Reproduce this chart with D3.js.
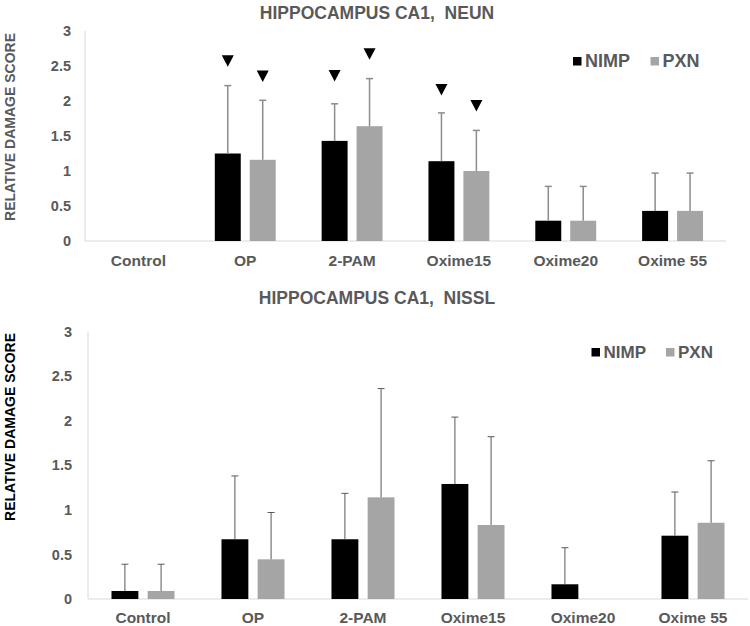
<!DOCTYPE html>
<html>
<head>
<meta charset="utf-8">
<script src="https://cdn.jsdelivr.net/npm/d3@7"></script>
<style>
  html, body { margin: 0; padding: 0; background: #ffffff; }
  svg { display: block; font-family: Arial, "Liberation Sans", sans-serif; }
</style>
</head>
<body>
<svg id="chart" width="750" height="626"></svg>
<script>
// ---------- DATA ----------
const categories = ["Control", "OP", "2-PAM", "Oxime15", "Oxime20", "Oxime 55"];
const seriesNames = ["NIMP", "PXN"];
const yTicks = [0, 0.5, 1, 1.5, 2, 2.5, 3];

// Top panel: Hippocampus CA1, NeuN
const neunTitle = "HIPPOCAMPUS CA1,  NEUN";
const neunNIMP = [0, 1.25, 1.43, 1.14, 0.29, 0.43];
const neunPXN  = [0, 1.16, 1.64, 1.00, 0.29, 0.43];
const neunNIMPerr = [0, 0.97, 0.53, 0.69, 0.49, 0.54];
const neunPXNerr  = [0, 0.85, 0.68, 0.58, 0.49, 0.54];
// significance markers (value at triangle apex, null = none)
const neunNIMPmark = [null, 2.49, 2.28, 2.08, null, null];
const neunPXNmark  = [null, 2.27, 2.59, 1.85, null, null];

// Bottom panel: Hippocampus CA1, Nissl
const nisslTitle = "HIPPOCAMPUS CA1,  NISSL";
const nisslNIMP = [0.09, 0.67, 0.67, 1.29, 0.165, 0.71];
const nisslPXN  = [0.09, 0.445, 1.14, 0.83, 0, 0.855];
const nisslNIMPerr = [0.30, 0.71, 0.515, 0.75, 0.41, 0.49];
const nisslPXNerr  = [0.30, 0.525, 1.22, 0.99, 0, 0.695];

const yTitle = "RELATIVE DAMAGE SCORE";

// ---------- DRAW ----------
const svg = d3.select("#chart");
const colors = { NIMP: "#000000", PXN: "#a5a5a5" };

function drawPanel(cfg) {
  const g = svg.append("g");
  const x0 = d3.scaleBand().domain(categories).range([cfg.left, cfg.right])
    .paddingInner(cfg.pad).paddingOuter(cfg.pad / 2);
  const x1 = d3.scaleBand().domain(seriesNames).range([0, x0.bandwidth()]).paddingInner(cfg.innerPad);
  const y = d3.scaleLinear().domain([0, 3]).range([cfg.bottom, cfg.top]);

  // axis lines
  g.append("line").attr("x1", cfg.left).attr("x2", cfg.left)
    .attr("y1", y(3)).attr("y2", y(0)).attr("stroke", "#d9d9d9").attr("stroke-width", 1);
  g.append("line").attr("x1", cfg.left).attr("x2", cfg.right)
    .attr("y1", y(0)).attr("y2", y(0)).attr("stroke", "#d9d9d9").attr("stroke-width", 1.2);

  // y ticks
  g.selectAll(".ytick").data(yTicks).enter().append("text")
    .attr("x", cfg.left - cfg.tickGap).attr("y", d => y(d))
    .attr("dy", "0.36em").attr("text-anchor", "end")
    .attr("font-size", 14.5).attr("font-weight", "bold").attr("fill", "#595959")
    .text(d => d);

  // x labels
  g.selectAll(".xlab").data(categories).enter().append("text")
    .attr("x", d => x0(d) + x0.bandwidth() / 2).attr("y", cfg.xLabelY)
    .attr("text-anchor", "middle").attr("font-size", 15.5).attr("font-weight", "bold")
    .attr("fill", "#595959").text(d => d);

  // y title
  g.append("text").attr("transform", `translate(${cfg.yTitleX},${cfg.yTitleY}) rotate(-90)`)
    .attr("text-anchor", "middle").attr("dy", "0.36em")
    .attr("font-size", 14).attr("font-weight", "bold").attr("fill", cfg.yTitleColor)
    .text(yTitle);

  // title
  g.append("text").attr("x", cfg.titleX).attr("y", cfg.titleY)
    .attr("text-anchor", "middle").attr("font-size", 17.5).attr("font-weight", "bold")
    .attr("fill", "#595959").style("white-space", "pre").attr("xml:space", "preserve")
    .text(cfg.title);

  // bars
  const rows = [];
  categories.forEach((c, i) => {
    seriesNames.forEach((s, j) => {
      rows.push({ c, s, v: cfg.values[j][i], e: cfg.errors[j][i], m: cfg.marks ? cfg.marks[j][i] : null });
    });
  });
  const bw = x1.bandwidth();
  g.selectAll(".bar").data(rows.filter(d => d.v > 0)).enter().append("rect")
    .attr("x", d => x0(d.c) + x1(d.s)).attr("width", bw)
    .attr("y", d => y(d.v)).attr("height", d => y(0) - y(d.v))
    .attr("fill", d => colors[d.s]);

  // error bars (upper only)
  const eb = g.selectAll(".err").data(rows.filter(d => d.e > 0)).enter().append("g");
  eb.append("line")
    .attr("x1", d => x0(d.c) + x1(d.s) + bw / 2).attr("x2", d => x0(d.c) + x1(d.s) + bw / 2)
    .attr("y1", d => y(d.v)).attr("y2", d => y(d.v + d.e))
    .attr("stroke", cfg.errColor).attr("stroke-width", cfg.errWidth);
  eb.append("line")
    .attr("x1", d => x0(d.c) + x1(d.s) + bw / 2 - 3.5).attr("x2", d => x0(d.c) + x1(d.s) + bw / 2 + 3.5)
    .attr("y1", d => y(d.v + d.e)).attr("y2", d => y(d.v + d.e))
    .attr("stroke", cfg.errColor).attr("stroke-width", cfg.errWidth);

  // significance triangles
  g.selectAll(".mark").data(rows.filter(d => d.m != null)).enter().append("path")
    .attr("d", d => {
      const cx = x0(d.c) + x1(d.s) + bw / 2, ay = y(d.m);
      return `M${cx - 6},${ay - 11.5}L${cx + 6},${ay - 11.5}L${cx},${ay}Z`;
    })
    .attr("fill", "#000");

  // legend
  const lg = g.append("g");
  seriesNames.forEach((s, j) => {
    const lx = cfg.legendX[j];
    lg.append("rect").attr("x", lx).attr("y", cfg.legendY - 9.5).attr("width", 8.5).attr("height", 8.5)
      .attr("fill", colors[s]);
    lg.append("text").attr("x", lx + 12).attr("y", cfg.legendY)
      .attr("font-size", cfg.legendFont).attr("font-weight", "bold").attr("fill", "#595959").text(s);
  });
}

drawPanel({
  title: neunTitle, titleX: 377, titleY: 19,
  left: 85, right: 726, top: 31, bottom: 241,
  pad: 0.43, innerPad: 0.257, tickGap: 14, xLabelY: 266,
  yTitleX: 10, yTitleY: 127, yTitleColor: "#595959",
  values: [neunNIMP, neunPXN], errors: [neunNIMPerr, neunPXNerr],
  marks: [neunNIMPmark, neunPXNmark],
  errColor: "#8c8c8c", errWidth: 1.5,
  legendX: [573, 650.5], legendY: 66.5, legendFont: 18
});

drawPanel({
  title: nisslTitle, titleX: 377, titleY: 304,
  left: 88, right: 748, top: 331.5, bottom: 599,
  pad: 0.427, innerPad: 0.257, tickGap: 16, xLabelY: 623,
  yTitleX: 10, yTitleY: 427, yTitleColor: "#000000",
  values: [nisslNIMP, nisslPXN], errors: [nisslNIMPerr, nisslPXNerr],
  marks: null,
  errColor: "#595959", errWidth: 1,
  legendX: [591.5, 666], legendY: 357.5, legendFont: 17
});
</script>
</body>
</html>
